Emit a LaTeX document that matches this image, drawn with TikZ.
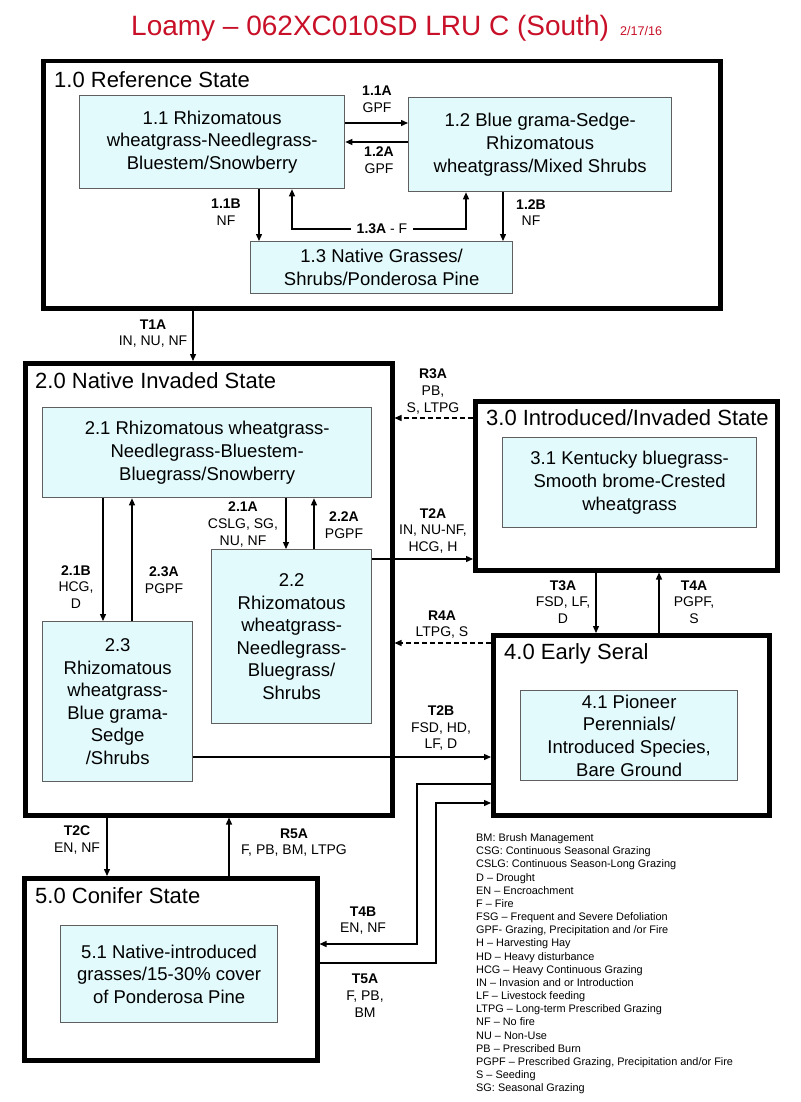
\documentclass[tikz,border=0pt]{standalone}
\usepackage{fontspec}
\setmainfont{Liberation Sans}
\usetikzlibrary{arrows.meta}
\definecolor{titlered}{RGB}{200,16,40}
\definecolor{cyanfill}{RGB}{226,250,252}
\definecolor{subedge}{RGB}{95,95,95}
\newcommand{\boxfont}{\fontsize{18.5}{22.6}\selectfont}
\newcommand{\labfont}{\fontsize{14}{16.7}\selectfont}
\newcommand{\statefont}{\fontsize{22}{26}\selectfont}
\newcommand{\legfont}{\fontsize{10.9}{13.16}\selectfont}
\tikzset{
  statebox/.style={draw=black, line width=4.5pt, fill=white, anchor=north west, inner sep=0pt},
  subbox/.style={draw=subedge, line width=1.3pt, fill=cyanfill, align=center, font=\boxfont, inner sep=0pt, anchor=north west},
  statetitle/.style={anchor=west, font=\statefont, inner sep=0pt},
  arr/.style={-{Triangle[length=7pt,width=6pt]}, line width=1.3pt},
  dsh/.style={arr, dash pattern=on 5pt off 3pt},
  lab/.style={align=center, font=\labfont, inner sep=0pt}
}
\begin{document}
\begin{tikzpicture}[x=1pt,y=-1pt]
\useasboundingbox[fill=white] (0,0) rectangle (800,1102);

% title
\node[anchor=base west, inner sep=0pt, text=titlered, font=\fontsize{28}{32}\selectfont] (title) at (131,36) {Loamy -- 062XC010SD LRU C (South)};
\node[anchor=base west, inner sep=0pt, text=titlered, font=\fontsize{12.6}{14}\selectfont] (date) at (620,36) {2/17/16};

% state boxes
\node[statebox, minimum width=677pt, minimum height=247pt] (s1) at (41,59) {};
\node[statebox, minimum width=367pt, minimum height=452pt] (s2) at (23,361) {};
\node[statebox, minimum width=302pt, minimum height=169pt] (s3) at (473,399) {};
\node[statebox, minimum width=276pt, minimum height=180pt] (s4) at (491,633) {};
\node[statebox, minimum width=293pt, minimum height=182pt] (s5) at (22,876) {};

\node[statetitle] (t1) at (54,80) {1.0 Reference State};
\node[statetitle] (t2) at (35,381) {2.0 Native Invaded State};
\node[statetitle] (t3) at (486,418) {3.0 Introduced/Invaded State};
\node[statetitle] (t4) at (504,654) {4.0 Early Seral};
\node[statetitle] (t5) at (35,896) {5.0 Conifer State};

% community boxes
\node[subbox, minimum width=265pt, minimum height=93pt] (n11) at (79,95) {1.1 Rhizomatous\\wheatgrass-Needlegrass-\\Bluestem/Snowberry};
\node[subbox, minimum width=263pt, minimum height=94pt] (n12) at (408,97) {1.2 Blue grama-Sedge-\\Rhizomatous\\wheatgrass/Mixed Shrubs};
\node[subbox, minimum width=262pt, minimum height=52pt] (n13) at (250,241) {1.3 Native Grasses/\\Shrubs/Ponderosa Pine};
\node[subbox, minimum width=329pt, minimum height=90pt] (n21) at (42,407) {2.1 Rhizomatous wheatgrass-\\Needlegrass-Bluestem-\\Bluegrass/Snowberry};
\node[subbox, minimum width=160pt, minimum height=174pt] (n22) at (211,549) {2.2\\Rhizomatous\\wheatgrass-\\Needlegrass-\\Bluegrass/\\Shrubs};
\node[subbox, minimum width=150pt, minimum height=160pt] (n23) at (42,621) {2.3\\Rhizomatous\\wheatgrass-\\Blue grama-\\Sedge\\/Shrubs};
\node[subbox, minimum width=254pt, minimum height=90pt] (n31) at (502,437) {3.1 Kentucky bluegrass-\\Smooth brome-Crested\\wheatgrass};
\node[subbox, minimum width=217pt, minimum height=90pt] (n41) at (520,690) {4.1 Pioneer\\Perennials/\\Introduced Species,\\Bare Ground};
\node[subbox, minimum width=217pt, minimum height=97pt] (n51) at (60,925) {5.1 Native-introduced\\grasses/15-30\% cover\\of Ponderosa Pine};

% state 1 internal transitions
\draw[arr] (n11.east |- 0,123) -- (n12.west |- 0,123);
\draw[arr] (n12.west |- 0,142) -- (n11.east |- 0,142);
\node[lab] (l11a) at (377,99.5) {\textbf{1.1A}\\GPF};
\node[lab] (l12a) at (379,160) {\textbf{1.2A}\\GPF};
\draw[arr] (n11.south -| 259,0) -- (n13.north -| 259,0);
\node[lab] (l11b) at (226,212.5) {\textbf{1.1B}\\NF};
\draw[arr] (n12.south -| 503,0) -- (n13.north -| 503,0);
\node[lab] (l12b) at (531,212.5) {\textbf{1.2B}\\NF};
\node[lab, inner xsep=6pt, inner ysep=2pt] (l13a) at (382,229) {\textbf{1.3A} - F};
\draw[arr] (l13a.west) -| (n11.south -| 292,0);
\draw[arr] (l13a.east) -| (n12.south -| 466,0);

% T1A
\draw[arr] (s1.south -| 193,0) -- (s2.north -| 193,0);
\node[lab] (lt1a) at (153,333.5) {\textbf{T1A}\\IN, NU, NF};

% state 2 internal transitions
\draw[arr] (n21.south -| 103,0) -- (n23.north -| 103,0);
\node[lab] (l21b) at (76,587) {\textbf{2.1B}\\HCG,\\D};
\draw[arr] (n23.north -| 132,0) -- (n21.south -| 132,0);
\node[lab] (l23a) at (164,580.5) {\textbf{2.3A}\\PGPF};
\draw[arr] (n21.south -| 286,0) -- (n22.north -| 286,0);
\node[lab] (l21a) at (243,524.5) {\textbf{2.1A}\\CSLG, SG,\\NU, NF};
\draw[arr] (n22.north -| 314,0) -- (n21.south -| 314,0);
\node[lab] (l22a) at (344,525) {\textbf{2.2A}\\PGPF};

% transitions between states
\draw[dsh] (s3.west |- 0,418) -- (s2.east |- 0,418);
\node[lab] (lr3a) at (433,391.5) {\textbf{R3A}\\PB,\\S, LTPG};
\draw[arr] (n22.east |- 0,559) -- (s3.west |- 0,559);
\node[lab] (lt2a) at (433,531) {\textbf{T2A}\\IN, NU-NF,\\HCG, H};
\draw[dsh] (s4.west |- 0,643) -- (s2.east |- 0,643);
\node[lab] (lr4a) at (442,624.5) {\textbf{R4A}\\LTPG, S};
\draw[arr] (n23.east |- 0,757) -- (s4.west |- 0,757);
\node[lab] (lt2b) at (441,728) {\textbf{T2B}\\FSD, HD,\\LF, D};
\draw[arr] (s3.south -| 596,0) -- (s4.north -| 596,0);
\node[lab] (lt3a) at (563,602) {\textbf{T3A}\\FSD, LF,\\D};
\draw[arr] (s4.north -| 659,0) -- (s3.south -| 659,0);
\node[lab] (lt4a) at (694,602) {\textbf{T4A}\\PGPF,\\S};
\draw[arr] (s2.south -| 107,0) -- (s5.north -| 107,0);
\node[lab] (lt2c) at (77,840) {\textbf{T2C}\\EN, NF};
\draw[arr] (s5.north -| 229,0) -- (s2.south -| 229,0);
\node[lab] (lr5a) at (294,842.5) {\textbf{R5A}\\F, PB, BM, LTPG};

\coordinate (t4b1) at (417,784);
\coordinate (t4b2) at (417,944);
\draw[arr] (s4.west |- t4b1) -- (t4b1) -- (t4b2) -- (s5.east |- t4b2);
\node[lab] (lt4b) at (363,920.5) {\textbf{T4B}\\EN, NF};
\coordinate (t5a1) at (436,963);
\coordinate (t5a2) at (436,803);
\draw[arr] (s5.east |- t5a1) -- (t5a1) -- (t5a2) -- (s4.west |- t5a2);
\node[lab] (lt5a) at (365,995.5) {\textbf{T5A}\\F, PB,\\BM};

% legend
\node[anchor=north west, align=left, inner sep=0pt, font=\legfont] (legend) at (476,833.5) {%
BM: Brush Management\\
CSG: Continuous Seasonal Grazing\\
CSLG: Continuous Season-Long Grazing\\
D -- Drought\\
EN -- Encroachment\\
F -- Fire\\
FSG -- Frequent and Severe Defoliation\\
GPF- Grazing, Precipitation and /or Fire\\
H -- Harvesting Hay\\
HD -- Heavy disturbance\\
HCG -- Heavy Continuous Grazing\\
IN -- Invasion and or Introduction\\
LF -- Livestock feeding\\
LTPG -- Long-term Prescribed Grazing\\
NF -- No fire\\
NU -- Non-Use\\
PB -- Prescribed Burn\\
PGPF -- Prescribed Grazing, Precipitation and/or Fire\\
S -- Seeding\\
SG: Seasonal Grazing};
\end{tikzpicture}
\end{document}
